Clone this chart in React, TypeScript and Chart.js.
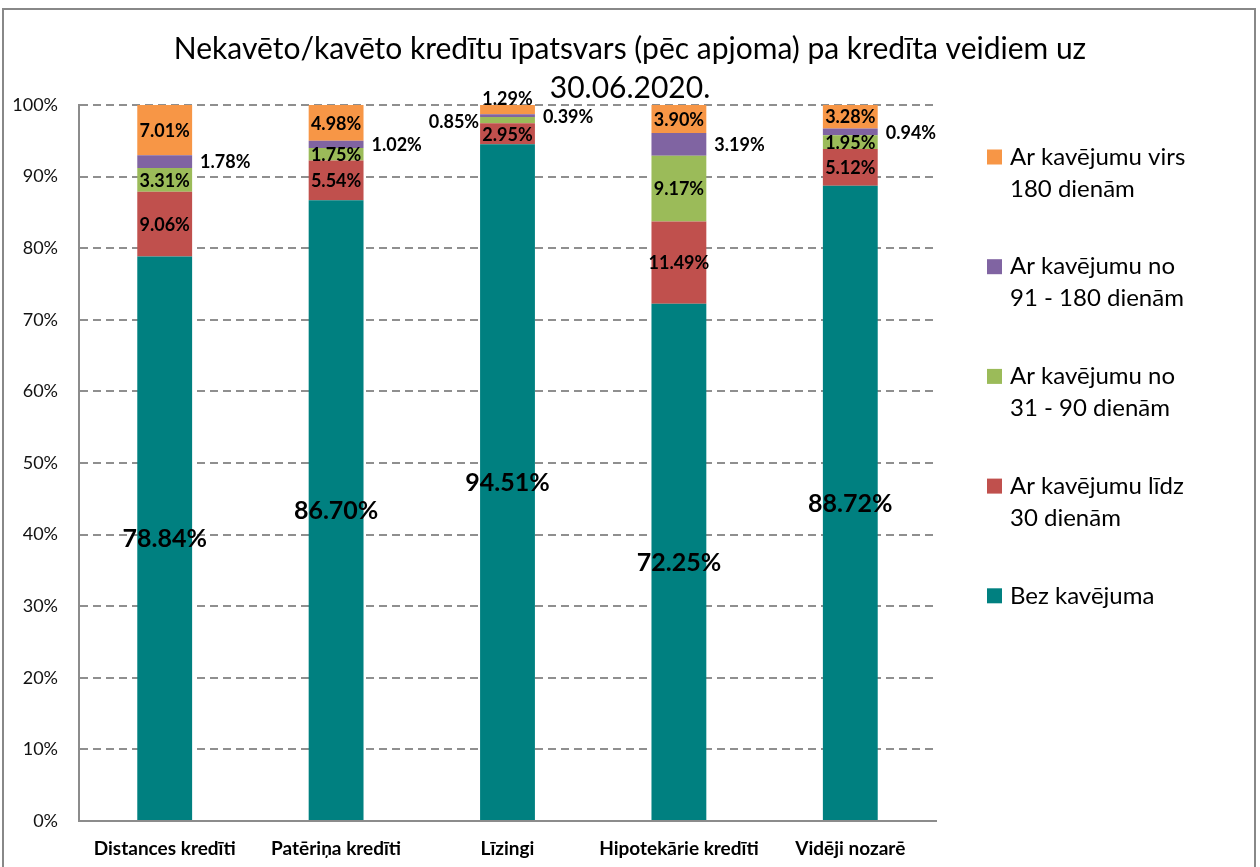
import React, { useEffect, useRef } from 'react';
import { Chart, registerables } from 'chart.js';

Chart.register(...registerables);

// ---- Data ----
const categories = ['Distances kredīti', 'Patēriņa kredīti', 'Līzingi', 'Hipotekārie kredīti', 'Vidēji nozarē'];
const bezKavejuma = [78.84, 86.7, 94.51, 72.25, 88.72];
const lidz30 = [9.06, 5.54, 2.95, 11.49, 5.12];
const no31lidz90 = [3.31, 1.75, 0.85, 9.17, 1.95];
const no91lidz180 = [1.78, 1.02, 0.39, 3.19, 0.94];
const virs180 = [7.01, 4.98, 1.29, 3.9, 3.28];
const yTickValues = [0, 10, 20, 30, 40, 50, 60, 70, 80, 90, 100];

const titleLines = ['Nekavēto/kavēto kredītu īpatsvars (pēc apjoma) pa kredīta veidiem uz', '30.06.2020.'];

const seriesNames = [
  'Bez kavējuma',
  'Ar kavējumu līdz\n30 dienām',
  'Ar kavējumu no\n31 - 90 dienām',
  'Ar kavējumu no\n91 - 180 dienām',
  'Ar kavējumu virs\n180 dienām',
];
const seriesColors = ['#008080', '#C0504D', '#9BBB59', '#8064A2', '#F79646'];

// label placement per series (bottom -> top), per category
const labelPlacement = [
  ['in', 'in', 'in', 'in', 'in'],
  ['in', 'in', 'in', 'in', 'in'],
  ['in', 'in', 'left', 'in', 'in'],
  ['right', 'right', 'right', 'right', 'right'],
  ['in', 'in', 'top', 'in', 'in'],
];

const FONT = 'Lato, "Open Sans", sans-serif';

const titlePlugin = {
  id: 'customTitle',
  afterDraw(chart: any) {
    const ctx = chart.ctx;
    ctx.save();
    ctx.fillStyle = '#000';
    ctx.font = `30px ${FONT}`;
    ctx.textAlign = 'center';
    ctx.textBaseline = 'alphabetic';
    ctx.fillText(titleLines[0], 630, 59);
    ctx.fillText(titleLines[1], 630, 98);
    ctx.restore();
  },
};

const dataLabelPlugin = {
  id: 'segLabels',
  afterDatasetsDraw(chart: any) {
    const ctx = chart.ctx;
    ctx.save();
    ctx.fillStyle = '#000';
    ctx.textBaseline = 'middle';
    chart.data.datasets.forEach((ds: any, di: number) => {
      const meta = chart.getDatasetMeta(di);
      meta.data.forEach((bar: any, i: number) => {
        const { x, y, base, width } = bar.getProps(['x', 'y', 'base', 'width'], true);
        const text = Number(ds.data[i]).toFixed(2) + '%';
        const place = labelPlacement[di][i];
        const cy = (y + base) / 2;
        ctx.font = di === 0 ? `bold 25px ${FONT}` : `bold 18px ${FONT}`;
        if (place === 'in') {
          ctx.textAlign = 'center';
          ctx.fillText(text, x, cy + 1);
        } else if (place === 'right') {
          ctx.textAlign = 'left';
          ctx.fillText(text, x + width / 2 + 8, cy + 1);
        } else if (place === 'left') {
          ctx.textAlign = 'right';
          ctx.fillText(text, x - width / 2 - 1, cy + 2);
        } else if (place === 'top') {
          ctx.textAlign = 'center';
          ctx.fillText(text, x, y - 6);
        }
      });
    });
    ctx.restore();
  },
};

const legendPlugin = {
  id: 'customLegend',
  afterDraw(chart: any) {
    const ctx = chart.ctx;
    ctx.save();
    ctx.textBaseline = 'middle';
    ctx.textAlign = 'left';
    ctx.font = `24px ${FONT}`;
    const n = chart.data.datasets.length;
    for (let k = 0; k < n; k++) {
      const di = n - 1 - k;
      const ds = chart.data.datasets[di];
      const yTop = 157 + k * 109.7;
      ctx.fillStyle = ds.backgroundColor;
      ctx.fillRect(987, yTop - 7.5, 15, 15);
      ctx.fillStyle = '#000';
      String(ds.label).split('\n').forEach((line: string, li: number) => {
        ctx.fillText(line, 1010, yTop + li * 32);
      });
    }
    ctx.restore();
  },
};

export default function App() {
  const canvasRef = useRef<HTMLCanvasElement>(null);

  useEffect(() => {
    const canvas = canvasRef.current;
    if (!canvas) return;
    const seriesData = [bezKavejuma, lidz30, no31lidz90, no91lidz180, virs180];
    const chart = new Chart(canvas, {
      type: 'bar',
      data: {
        labels: categories,
        datasets: seriesData.map((d, i) => ({
          label: seriesNames[i],
          data: d,
          backgroundColor: seriesColors[i],
          borderWidth: 0,
          barPercentage: 0.32,
          categoryPercentage: 1,
        })),
      },
      options: {
        responsive: false,
        animation: false,
        devicePixelRatio: 1,
        layout: { padding: { top: 105, right: 324, left: 0, bottom: 0 } },
        plugins: {
          legend: { display: false },
          title: { display: false },
          tooltip: { enabled: false },
        },
        scales: {
          x: {
            stacked: true,
            grid: { display: false, drawTicks: false },
            border: { display: true, color: '#8c8c8c', width: 2 },
            ticks: {
              color: '#000',
              font: { family: FONT, size: 19, weight: 'bold' },
              padding: 16,
              maxRotation: 0,
              autoSkip: false,
            },
            afterFit(scale: any) {
              scale.height = 46;
            },
          },
          y: {
            stacked: true,
            min: 0,
            max: 100,
            grid: { color: '#8f8f8f', lineWidth: 2, drawTicks: false },
            border: { display: true, color: '#8c8c8c', width: 2, dash: [8, 5] },
            afterBuildTicks(scale: any) {
              scale.ticks = yTickValues.map((v) => ({ value: v }));
            },
            ticks: {
              color: '#111',
              font: { family: FONT, size: 18 },
              padding: 21,
              callback: (v: any) => v + '%',
            },
            afterFit(scale: any) {
              scale.width = 79;
            },
          },
        },
      },
      plugins: [titlePlugin, dataLabelPlugin, legendPlugin],
    } as any);
    return () => chart.destroy();
  }, []);

  return (
    <div style={{ position: 'fixed', left: 0, top: 0, width: 1260, height: 867, background: '#fff', overflow: 'hidden' }}>
      <div
        style={{
          position: 'absolute',
          left: 2,
          top: 8,
          width: 1250,
          height: 900,
          border: '2px solid #888',
          boxSizing: 'content-box',
        }}
      />
      <canvas ref={canvasRef} width={1260} height={867} style={{ position: 'absolute', left: 0, top: 0 }} />
    </div>
  );
}
